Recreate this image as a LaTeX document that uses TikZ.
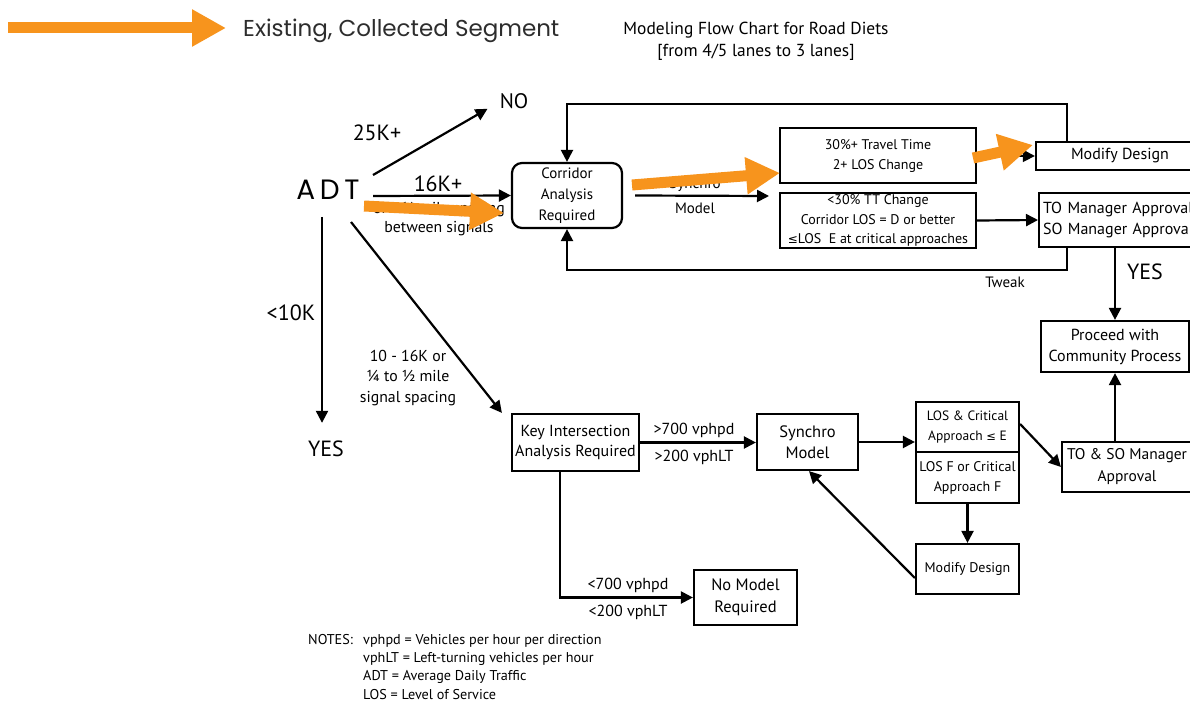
\documentclass[tikz,border=0pt]{standalone}
\usepackage{fontspec}
\setmainfont{PT Sans}
\newfontfamily\geofont{Poppins}
\newfontfamily\symfont{DejaVu Sans}
\usetikzlibrary{arrows.meta,calc}

\definecolor{segorange}{RGB}{247,148,29}
\definecolor{legendgray}{RGB}{45,45,45}

\newcommand{\fs}[2]{\fontsize{#1}{#2}\selectfont}

\begin{document}
\begin{tikzpicture}[x=1pt,y=-1pt,
  box/.style={draw, line width=2.2pt, align=center, inner sep=0pt},
  flow/.style={line width=2.2pt, -{Triangle[length=12pt,width=12pt]}},
  seg/.style={segorange, line width=11pt, -{Triangle[length=34pt,width=35pt]}},
  lbl/.style={align=center, inner sep=0pt},
  big/.style={lbl, font=\fs{22}{26}},
]
\useasboundingbox (0,0) rectangle (1190,703);
\clip (0,0) rectangle (1190,703);

% ---------- legend and title ----------
\node[lbl, anchor=west, text=legendgray, font=\geofont\fs{23}{26}] (legtext) at (243,31) {Existing, Collected Segment};
\coordinate (legA) at (8,28);
\node[lbl, font=\fs{17.4}{22}] (title) at (756,41) {Modeling Flow Chart for Road Diets\\{}[from 4/5 lanes to 3 lanes]};

% ---------- ADT branching ----------
\node[lbl, font=\geofont\fs{28}{30}] (adt) at (328,190) {A\,D\,T};
\coordinate (adtNE) at (373,175);
\coordinate (adtE) at (373,196);
\coordinate (adtS) at (322,217);
\coordinate (adtSE) at (351,222);

\node[lbl, font=\fs{21}{24}] (no) at (514,101) {NO};
\node[big] (k25) at (377,133) {25K+};
\node[big] (k16) at (438,184) {16K+};
\node[lbl, font=\fs{15.8}{19}] (spacing) at (439,219) {or <\,¼ mile spacing\\between signals};
\node[big] (k10) at (291,313) {<10K};
\node[big] (yes) at (326,449) {YES};
\node[lbl, font=\fs{15.8}{20.5}] (mid) at (408,378) {10 - 16K or\\¼ to ½ mile\\signal spacing};

% ---------- corridor analysis branch ----------
\node[box, rounded corners=10pt, minimum width=110pt, minimum height=65pt, font=\fs{15}{21}] (corr) at (567,195.5) {Corridor\\Analysis\\Required};
\node[lbl, font=\fs{15}{25}] (synlbl) at (695,195.5) {Synchro\\Model};
\coordinate (split) at (769,196);

\node[box, minimum width=196pt, minimum height=55pt, font=\fs{14}{20}] (tt30) at (878,155.5) {30\%+ Travel Time\\2+ LOS Change};
\node[box, minimum width=196pt, minimum height=55pt, font=\fs{14}{19.5}] (tt30b) at (878,220.5) {<30\% TT Change\\Corridor LOS = D or better\\{\symfont\fs{12}{19.5}≤}LOS\ \ E at critical approaches};

\node[box, minimum width=168pt, minimum height=28pt, font=\fs{16}{20}] (modtop) at (1120,156) {Modify Design};
\node[box, anchor=west, align=left, text width=170pt, inner xsep=4pt, minimum height=54pt, font=\fs{16}{21}] (tomgr) at (1038,220) {TO Manager Approval\\SO Manager Approval};

\coordinate (loopR) at (1067,104);
\coordinate (loopB) at (1067,270);
\node[lbl, font=\fs{15}{18}] (tweak) at (1005,282) {Tweak};

\node[box, minimum width=148pt, minimum height=51pt, font=\fs{16}{21}] (proceed) at (1115,346.5) {Proceed with\\Community Process};
\node[big] (yes2) at (1145,272) {YES};

% ---------- key intersection branch ----------
\node[box, minimum width=127pt, minimum height=57pt, font=\fs{16}{20}] (key) at (575.5,442.5) {Key Intersection\\Analysis Required};
\node[box, minimum width=101pt, minimum height=56pt, font=\fs{16.5}{21}] (syn) at (807.5,442) {Synchro\\Model};
\node[box, minimum width=103pt, minimum height=50pt, font=\fs{13.5}{20}] (lostop) at (967.5,427) {LOS \& Critical\\Approach {\symfont\fs{11.5}{20}≤} E};
\node[box, minimum width=103pt, minimum height=51pt, font=\fs{14}{20}] (losbot) at (967.5,477.5) {LOS F or Critical\\Approach F};
\node[box, minimum width=103pt, minimum height=50pt, font=\fs{14}{20}] (mod2) at (967.5,569) {Modify Design};
\node[box, minimum width=103pt, minimum height=55pt, font=\fs{16.5}{22}] (nomodel) at (745.5,597.5) {No Model\\Required};
\node[box, minimum width=130pt, minimum height=50pt, font=\fs{15.5}{22}] (toso) at (1127,467) {TO \& SO Manager\\Approval};

\node[lbl, font=\fs{16}{27}] (hi) at (694,443.5) {>700 vphpd\\>200 vphLT};
\node[lbl, font=\fs{16}{27}] (lo) at (628,598.5) {<700 vphpd\\<200 vphLT};

% ---------- notes ----------
\node[lbl, anchor=north west, font=\fs{14.2}{18.3}] (notes) at (308,634) {NOTES:};
\node[lbl, anchor=north west, align=left, font=\fs{14.2}{18.3}] (notelist) at (363,634) {vphpd = Vehicles per hour per direction\\vphLT = Left-turning vehicles per hour\\ADT = Average Daily Traffic\\LOS = Level of Service};

% ---------- connectors ----------
\draw[flow] (adtNE) -- ([xshift=-12pt]no.south west);
\draw[flow] (adtE) -- (corr.west);
\draw[flow] (adtS) -- ($(adtS |- yes.north)+(0,-18)$);
\draw[flow] (adtSE) -- ([xshift=-9pt]key.north west);

\draw[flow] ([xshift=12pt]corr.east) -- (split);
\draw[flow] (tt30.east) -- (modtop.west);
\draw[flow] (tt30b.east) -- (tomgr.west);
\draw[flow] (loopR |- modtop.north) -- (loopR) -| (corr.north);
\draw[flow] (loopB |- tomgr.south) -- (loopB) -| (corr.south);
\draw[flow] (proceed.north |- tomgr.south) -- (proceed.north);
\draw[flow] (proceed.south |- toso.north) -- (proceed.south);

\draw[flow] (key.east) -- (key.east -| syn.west);
\draw[flow] (syn.east) -- (syn.east -| lostop.west);
\draw[flow] ([yshift=3pt]lostop.east) -- (toso.west);
\draw[flow] (losbot.south) -- (mod2.north);
\draw[flow] ([yshift=-9pt]mod2.west) -- ([xshift=1.5pt]syn.south);
\draw[flow] ([xshift=-15.5pt]key.south) |- (nomodel.west);

% ---------- existing, collected segments ----------
\coordinate (s1a) at (364,206); \coordinate (s1b) at (504,213);
\coordinate (s2a) at (632,185); \coordinate (s2b) at (780,173);
\coordinate (s3a) at (973,158); \coordinate (s3b) at (1033,145);
\draw[seg] (legA) -- ([xshift=-17pt]legtext.west |- legA);
\draw[seg] (s1a) -- (s1b);
\draw[seg] (s2a) -- (s2b);
\draw[seg] (s3a) -- (s3b);
\end{tikzpicture}
\end{document}
